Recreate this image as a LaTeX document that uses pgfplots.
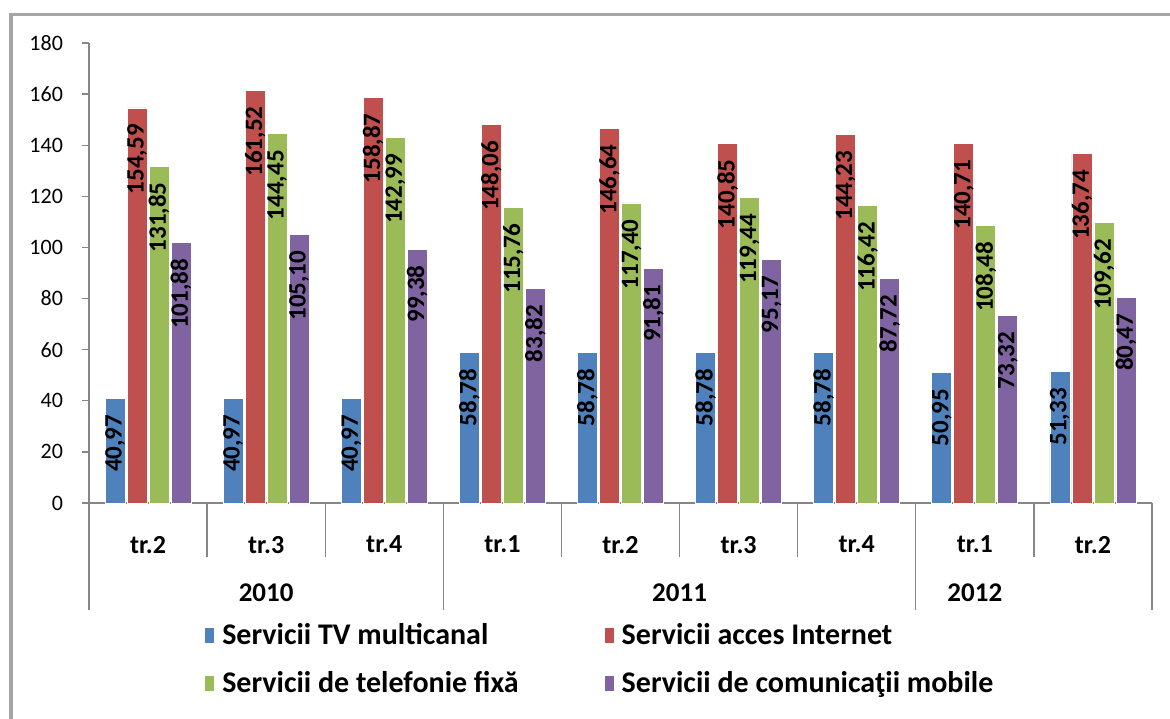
\documentclass[border=0pt]{standalone}
\usepackage{pgfplots}
\usepackage{pgfplotstable}
\pgfplotsset{compat=1.18}
\usepackage{fontspec}
\setmainfont{Carlito}
\definecolor{cTV}{HTML}{4F81BD}
\definecolor{cInt}{HTML}{C0504D}
\definecolor{cFix}{HTML}{9BBB59}
\definecolor{cMob}{HTML}{8064A2}
\definecolor{axisgray}{HTML}{868686}
\definecolor{framegray}{HTML}{A6A6A6}
\pgfplotstableread{
x tv inet fix mob
0 40.97 154.59 131.85 101.88
1 40.97 161.52 144.45 105.10
2 40.97 158.87 142.99 99.38
3 58.78 148.06 115.76 83.82
4 58.78 146.64 117.40 91.81
5 58.78 140.85 119.44 95.17
6 58.78 144.23 116.42 87.72
7 50.95 140.71 108.48 73.32
8 51.33 136.74 109.62 80.47
}\datatable
\begin{document}
\begin{tikzpicture}
\path[use as bounding box] (-44.5pt,-107.5pt) rectangle (540.5pt,251.5pt);
\draw[framegray, line width=1.6pt] (-39pt,-110pt) -- (-39pt,244.2pt) -- (545pt,244.2pt);
\begin{axis}[
  at={(0,0)}, anchor=south west,
  scale only axis, width=531.5pt, height=230pt,
  clip=false,
  xmin=-0.5, xmax=8.5, ymin=0, ymax=180,
  ytick={0,20,...,180},
  xtick={0,...,8},
  xticklabels={tr.2,tr.3,tr.4,tr.1,tr.2,tr.3,tr.4,tr.1,tr.2},
  axis lines*=left,
  axis line style={draw=axisgray, line width=0.7pt},
  tick align=outside,
  major tick length=3.5pt,
  ytick style={draw=axisgray, line width=0.7pt},
  xtick style={draw=none},
  /pgf/number format/assume math mode=true,
  y tick label style={font=\fontsize{11}{13}\selectfont, xshift=-6pt},
  x tick label style={font=\bfseries\fontsize{13}{15}\selectfont, yshift=-9.5pt},
  ybar=1pt, bar width=10pt,
  every axis plot/.append style={draw=white, line width=0.4pt},
  nodes near coords={\pgfmathprintnumber[fixed,fixed zerofill,precision=2,use comma,assume math mode=true]{\pgfplotspointmeta}},
  every node near coord/.append style={rotate=90, anchor=east, text=black,
     font=\bfseries\fontsize{12.5}{14}\selectfont, inner xsep=8pt, inner ysep=0pt},
  legend columns=2,
  legend cell align=left,
  legend image code/.code={\fill[#1, draw=none] (0pt,-3.75pt) rectangle (4.5pt,3.75pt);},
  legend style={at={(0.109,-0.253)}, anchor=north west, draw=none, fill=none,
     inner sep=0pt, row sep=8pt,
     font=\bfseries\fontsize{15}{17}\selectfont,
     /tikz/every odd column/.append style={column sep=2pt},
     /tikz/every even column/.append style={column sep=41pt}},
]
\addplot[fill=cTV] table[x=x,y=tv]{\datatable};
\addplot[fill=cInt] table[x=x,y=inet]{\datatable};
\addplot[fill=cFix] table[x=x,y=fix]{\datatable};
\addplot[fill=cMob] table[x=x,y=mob]{\datatable};
\legend{Servicii TV multicanal, Servicii acces Internet, Servicii de telefonie fixă, Servicii de comunicaţii mobile}
\pgfplotsinvokeforeach{-0.5,2.5,6.5,8.5}{
  \draw[axisgray, line width=0.7pt] (axis cs:#1,0) -- ++(0pt,-53.5pt);
}
\pgfplotsinvokeforeach{0.5,1.5,3.5,4.5,5.5,7.5}{
  \draw[axisgray, line width=0.7pt] (axis cs:#1,0) -- ++(0pt,-27pt);
}
\node[font=\bfseries\fontsize{13.5}{15}\selectfont, yshift=-45pt] at (axis cs:1,0) {2010};
\node[font=\bfseries\fontsize{13.5}{15}\selectfont, yshift=-45pt] at (axis cs:4.5,0) {2011};
\node[font=\bfseries\fontsize{13.5}{15}\selectfont, yshift=-45pt] at (axis cs:7,0) {2012};
\end{axis}
\end{tikzpicture}
\end{document}
